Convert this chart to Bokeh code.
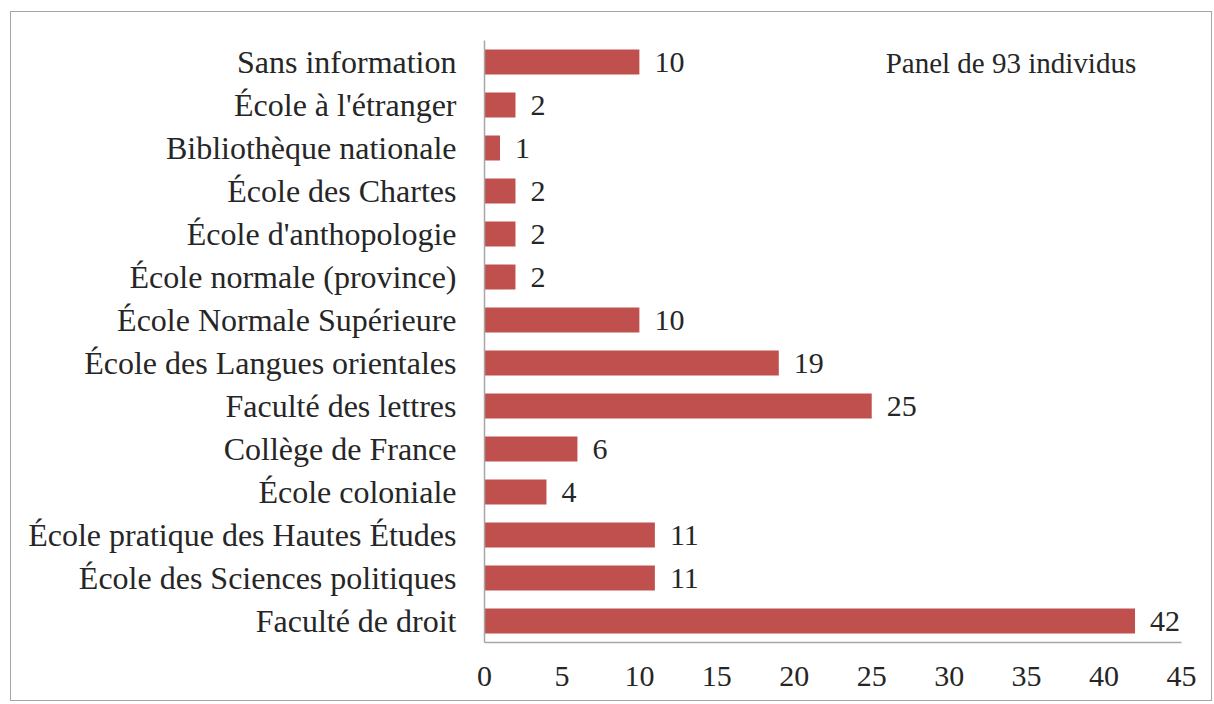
from bokeh.plotting import figure
from bokeh.models import FactorRange, Range1d, ColumnDataSource, FixedTicker
from bokeh.core.properties import value
from bokeh.embed import file_html
from bokeh.resources import INLINE

categories = [
    "Faculté de droit",
    "École des Sciences politiques",
    "École pratique des Hautes Études",
    "École coloniale",
    "Collège de France",
    "Faculté des lettres",
    "École des Langues orientales",
    "École Normale Supérieure",
    "École normale (province)",
    "École d'anthopologie",
    "École des Chartes",
    "Bibliothèque nationale",
    "École à l'étranger",
    "Sans information",
]
counts = [42, 11, 11, 4, 6, 25, 19, 10, 2, 2, 2, 1, 2, 10]
x_ticks = [0, 5, 10, 15, 20, 25, 30, 35, 40, 45]
note = "Panel de 93 individus"

FONT = "Liberation Serif"
TXT = "#262626"
BAR = "#C0504D"
AX = "#A6A6A6"

src = ColumnDataSource(dict(cat=categories, n=counts, lab=[str(v) for v in counts]))

p = figure(
    width=1202, height=690,
    y_range=FactorRange(factors=categories, range_padding=0),
    x_range=Range1d(0, 45),
    output_backend="svg", toolbar_location=None,
    min_border_left=473, min_border_right=32,
    min_border_top=28, min_border_bottom=60,
)
p.styles = {"border": "1px solid #A6A6A6", "margin-left": "10px", "margin-top": "11px"}
p.outline_line_color = None
p.grid.visible = False

p.hbar(y="cat", right="n", height=0.58, left=0, color=BAR, line_color=None, source=src)
p.text(x="n", y="cat", text="lab", source=src, x_offset=15,
       text_align="left", text_baseline="middle",
       text_font=value(FONT), text_font_size="30px", text_color=TXT)

p.text(x=[25.9], y=[categories[-1]], text=[note], text_align="left", text_baseline="middle",
       y_offset=1, text_font=value(FONT), text_font_size="29px", text_color=TXT)

for ax in (p.xaxis[0], p.yaxis[0]):
    ax.axis_line_color = AX
    ax.axis_line_width = 1.5
    ax.major_tick_line_color = None
    ax.minor_tick_line_color = None
    ax.major_label_text_font = FONT
    ax.major_label_text_color = TXT

p.yaxis[0].major_label_text_font_size = "32px"
p.xaxis[0].major_label_text_font_size = "30px"
p.xaxis[0].ticker = FixedTicker(ticks=x_ticks)
p.xaxis[0].major_label_standoff = 18
p.yaxis[0].major_label_standoff = 22

open("out.html", "w").write(file_html(p, INLINE))
